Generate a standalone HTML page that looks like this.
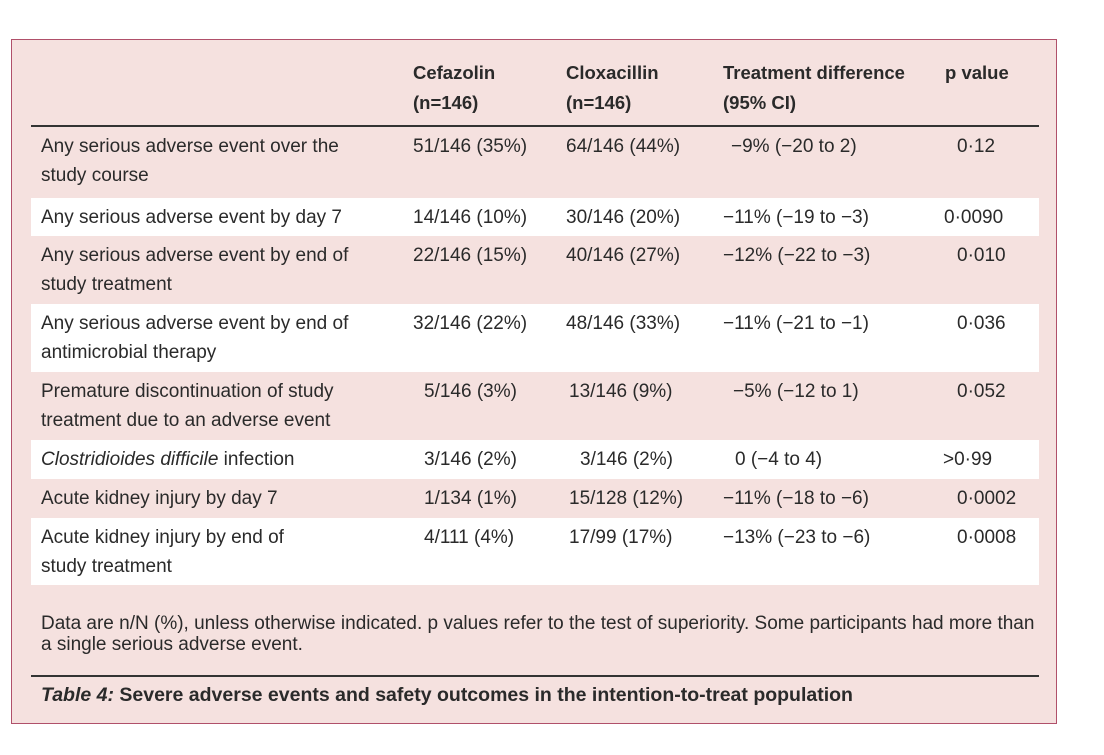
<!DOCTYPE html>
<html><head><meta charset="utf-8"><style>
body{margin:0;width:1104px;height:755px;background:#fff;position:relative;overflow:hidden;font-family:"Liberation Sans",sans-serif;color:#2a2a2a}
.box{position:absolute;left:11px;top:39px;width:1046px;height:685px;background:#f5e1df;border:1.5px solid #b0506a;box-sizing:border-box}
.r{position:absolute;left:31px;width:1008px;font-size:19px;line-height:29px}
.w{background:#fff}
.r span{position:absolute;top:5px;white-space:nowrap}
.l{left:10px}
.c1{left:382px}.c2{left:535px}.c3{left:692px}.c4{left:926px}
.h{font-weight:bold;font-size:18.5px;line-height:30px}
.rule{position:absolute;left:31px;width:1008px;height:1.5px;background:#333}
.fn{position:absolute;left:41px;font-size:19px;line-height:21px;white-space:nowrap}
</style></head><body>
<div class="box"></div>
<div class="r h" style="top:58px;height:68px">
<span class="c1" style="top:0">Cefazolin<br>(n=146)</span>
<span class="c2" style="top:0">Cloxacillin<br>(n=146)</span>
<span class="c3" style="top:0">Treatment difference<br>(95% CI)</span>
<span class="c4" style="top:0;left:914px">p value</span>
</div>
<div class="rule" style="top:125px"></div>
<div class="r" style="top:127px;height:71px"><span class="l">Any serious adverse event over the<br>study course</span><span class="c1">51/146 (35%)</span><span class="c2">64/146 (44%)</span><span class="c3" style="left:700px">−9% (−20 to 2)</span><span class="c4">0·12</span></div>
<div class="r w" style="top:198px;height:38px"><span class="l">Any serious adverse event by day 7</span><span class="c1">14/146 (10%)</span><span class="c2">30/146 (20%)</span><span class="c3">−11% (−19 to −3)</span><span class="c4" style="left:913px">0·0090</span></div>
<div class="r" style="top:236px;height:68px"><span class="l">Any serious adverse event by end of<br>study treatment</span><span class="c1">22/146 (15%)</span><span class="c2">40/146 (27%)</span><span class="c3">−12% (−22 to −3)</span><span class="c4">0·010</span></div>
<div class="r w" style="top:304px;height:68px"><span class="l">Any serious adverse event by end of<br>antimicrobial therapy</span><span class="c1">32/146 (22%)</span><span class="c2">48/146 (33%)</span><span class="c3">−11% (−21 to −1)</span><span class="c4">0·036</span></div>
<div class="r" style="top:372px;height:68px"><span class="l">Premature discontinuation of study<br>treatment due to an adverse event</span><span class="c1" style="left:393px">5/146 (3%)</span><span class="c2" style="left:538px">13/146 (9%)</span><span class="c3" style="left:702px">−5% (−12 to 1)</span><span class="c4">0·052</span></div>
<div class="r w" style="top:440px;height:39px"><span class="l"><i>Clostridioides difficile</i> infection</span><span class="c1" style="left:393px">3/146 (2%)</span><span class="c2" style="left:549px">3/146 (2%)</span><span class="c3" style="left:704px">0 (−4 to 4)</span><span class="c4" style="left:912px">&gt;0·99</span></div>
<div class="r" style="top:479px;height:39px"><span class="l">Acute kidney injury by day 7</span><span class="c1" style="left:393px">1/134 (1%)</span><span class="c2" style="left:538px">15/128 (12%)</span><span class="c3">−11% (−18 to −6)</span><span class="c4">0·0002</span></div>
<div class="r w" style="top:518px;height:67px"><span class="l">Acute kidney injury by end of<br>study treatment</span><span class="c1" style="left:393px">4/111 (4%)</span><span class="c2" style="left:538px">17/99 (17%)</span><span class="c3">−13% (−23 to −6)</span><span class="c4">0·0008</span></div>
<div class="fn" style="top:613px">Data are n/N (%), unless otherwise indicated. p values refer to the test of superiority. Some participants had more than<br>a single serious adverse event.</div>
<div class="rule" style="top:675px"></div>
<div class="fn" style="top:683px;font-weight:bold;font-size:19.5px;line-height:24px"><i>Table 4:</i> Severe adverse events and safety outcomes in the intention-to-treat population</div>
</body></html>
